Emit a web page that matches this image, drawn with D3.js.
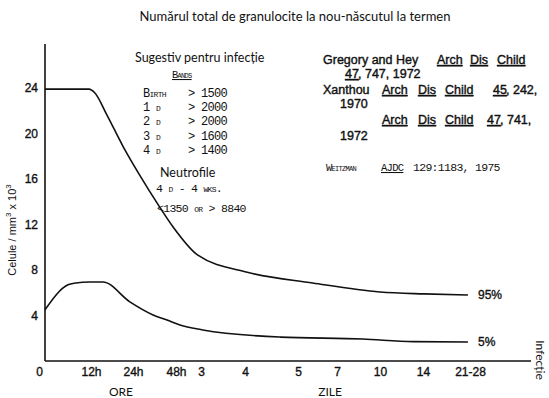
<!DOCTYPE html>
<html>
<head>
<meta charset="utf-8">
<script src="https://cdn.jsdelivr.net/npm/d3@7"></script>
<style>
body { margin: 0; background: #fff; }
text { fill: #111; }
.sans { font-family: "Liberation Sans", Arial, sans-serif; stroke: #111; stroke-width: 0.35; }
.soft { font-family: Lato, "Liberation Sans", sans-serif; }
.mono { font-family: "Liberation Mono", monospace; font-variant: small-caps; letter-spacing: -0.7px; }
.ref { font-family: "Liberation Sans", Arial, sans-serif; font-size: 12.5px; stroke: #111; stroke-width: 0.4; }
.u { text-decoration: underline; }
</style>
</head>
<body>
<svg id="chart" width="549" height="398"></svg>
<script>
const title = 'Numărul total de granulocite la nou-născutul la termen';

// x is in hours after birth; ticks are unevenly spaced on the original
const tickHours = [0, 12, 24, 48, 72, 96, 120, 168, 240, 336, 588];
const tickLabels = ['0', '12h', '24h', '48h', '3', '4', '5', '7', '10', '14', '21-28'];
const yTicks = [4, 8, 12, 16, 20, 24];

// percentile curves, cells/mm3 x 10^3
const p95Hours = [0, 11.5, 13, 16.6, 21.1, 27.9, 37.4, 46.3, 69, 97, 138, 240, 340, 577];
const p95Values = [23.9, 23.9, 23.6, 21.6, 18.9, 16.3, 13.9, 11.8, 9.3, 7.8, 6.86, 6.07, 5.9, 5.8];
const p5Hours = [0, 6, 8, 11.7, 15.4, 23.1, 35.2, 43, 51.8, 73, 112, 211, 314, 577];
const p5Values = [4.5, 6.7, 6.85, 6.95, 6.95, 5.2, 4.05, 3.6, 3.16, 2.73, 2.1, 1.93, 1.7, 1.67];

const bandDays = ['Birth', '1 d', '2 d', '3 d', '4 d'];
const bandLimits = ['> 1500', '> 2000', '> 2000', '> 1600', '> 1400'];

const svg = d3.select('#chart');

const x = d3.scaleLinear()
    .domain(tickHours)
    .range([45, 91, 133, 176, 201, 245, 298, 337, 380, 423, 470]);
const y = d3.scaleLinear().domain([0, 24]).range([361, 88]);

svg.append('text')
    .attr('class', 'soft')
    .attr('x', 295).attr('y', 21)
    .attr('text-anchor', 'middle')
    .attr('font-size', 13)
    .text(title);

// axis lines drawn by hand, they run past the last tick
svg.append('line')
    .attr('x1', 45).attr('x2', 531).attr('y1', y(0)).attr('y2', y(0))
    .attr('stroke', '#111').attr('stroke-width', 1.6);
svg.append('line')
    .attr('x1', 45).attr('x2', 45).attr('y1', y(0)).attr('y2', 44)
    .attr('stroke', '#111').attr('stroke-width', 1.6);

const xAxis = svg.append('g')
    .attr('transform', `translate(0,${y(0)})`)
    .call(d3.axisBottom(x).tickValues(tickHours)
        .tickFormat((d, i) => tickLabels[i]).tickSize(0).tickPadding(6));
xAxis.select('.domain').remove();
xAxis.selectAll('text')
    .attr('class', 'sans')
    .attr('font-size', 12)
    .attr('dx', (d, i) => i === 0 ? -6 : 0);

const yAxis = svg.append('g')
    .attr('transform', 'translate(45,0)')
    .call(d3.axisLeft(y).tickValues(yTicks).tickSize(0).tickPadding(7));
yAxis.select('.domain').remove();
yAxis.selectAll('text')
    .attr('class', 'sans')
    .attr('font-size', 12);

const line = d3.line()
    .x(d => x(d[0]))
    .y(d => y(d[1]))
    .curve(d3.curveMonotoneX);

[[p95Hours, p95Values, '95%'], [p5Hours, p5Values, '5%']].forEach(([hrs, vals, name]) => {
    const pts = hrs.map((h, i) => [h, vals[i]]);
    svg.append('path')
        .attr('d', line(pts))
        .attr('fill', 'none')
        .attr('stroke', '#111')
        .attr('stroke-width', 1.6);
    svg.append('text')
        .attr('class', 'sans')
        .attr('x', 478).attr('y', y(vals[vals.length - 1]) + 4)
        .attr('font-size', 12)
        .text(name);
});

// axis titles
svg.append('text').attr('class', 'soft').attr('x', 121).attr('y', 396)
    .attr('text-anchor', 'middle').attr('font-size', 12).text('ORE');
svg.append('text').attr('class', 'soft').attr('x', 330).attr('y', 396)
    .attr('text-anchor', 'middle').attr('font-size', 12).text('ZILE');
svg.append('text').attr('class', 'soft')
    .attr('transform', 'translate(536,360) rotate(90)')
    .attr('text-anchor', 'middle').attr('font-size', 12).text('Infecție');

const yl = svg.append('text')
    .attr('font-family', '"Liberation Sans", Arial, sans-serif')
    .attr('transform', 'translate(16,230) rotate(-90)')
    .attr('text-anchor', 'middle').attr('font-size', 11);
yl.append('tspan').text('Celule / mm');
yl.append('tspan').attr('font-size', 8).attr('dy', -5).text('3');
yl.append('tspan').attr('dy', 5).text(' x 10');
yl.append('tspan').attr('font-size', 8).attr('dy', -5).text('3');

// left annotation block
svg.append('text').attr('class', 'soft').attr('x', 135).attr('y', 62)
    .attr('font-size', 12.5).text('Sugestiv pentru infecție');
svg.append('text').attr('class', 'mono u').attr('x', 172).attr('y', 78)
    .attr('font-size', 10.5).text('Bands');

const bands = svg.append('g');
bandDays.forEach((d, i) => {
    const yy = 97 + i * 14.2;
    bands.append('text').attr('class', 'mono').attr('x', 143).attr('y', yy)
        .attr('font-size', 12).text(d);
    bands.append('text').attr('class', 'mono').attr('x', 227).attr('y', yy)
        .attr('text-anchor', 'end').attr('font-size', 12).text(bandLimits[i]);
});

svg.append('text').attr('class', 'soft').attr('x', 160).attr('y', 177)
    .attr('font-size', 12.5).text('Neutrofile');
svg.append('text').attr('class', 'mono').attr('x', 156).attr('y', 192)
    .attr('font-size', 11.5).text('4 d - 4 wks.');
svg.append('text').attr('class', 'mono').attr('x', 157).attr('y', 212)
    .attr('font-size', 11.5).text('<1350 or > 8840');

// right references block
function refLine (yy, parts) {
    parts.forEach(([px, txt, under]) => {
        svg.append('text')
            .attr('class', under ? 'ref u' : 'ref')
            .attr('x', px).attr('y', yy)
            .text(txt);
    });
}
refLine(64, [[323, 'Gregory and Hey'], [437, 'Arch', 1], [470, 'Dis', 1], [497, 'Child', 1]]);
refLine(78, [[345, '47', 1], [358, ', 747, 1972']]);
refLine(94, [[323, 'Xanthou'], [382, 'Arch', 1], [418, 'Dis', 1], [445, 'Child', 1], [493, '45', 1], [506, ', 242,']]);
refLine(108, [[340, '1970']]);
refLine(124, [[382, 'Arch', 1], [418, 'Dis', 1], [445, 'Child', 1], [487, '47', 1], [500, ', 741,']]);
refLine(140, [[340, '1972']]);

svg.append('text').attr('class', 'mono').attr('x', 326).attr('y', 171)
    .attr('font-size', 10.5).text('Weitzman');
svg.append('text').attr('class', 'mono u').attr('x', 381).attr('y', 171)
    .attr('font-size', 10.5).text('AJDC');
svg.append('text').attr('class', 'mono').attr('x', 413).attr('y', 171)
    .attr('font-size', 11.5).text('129:1183, 1975');
</script>
</body>
</html>
